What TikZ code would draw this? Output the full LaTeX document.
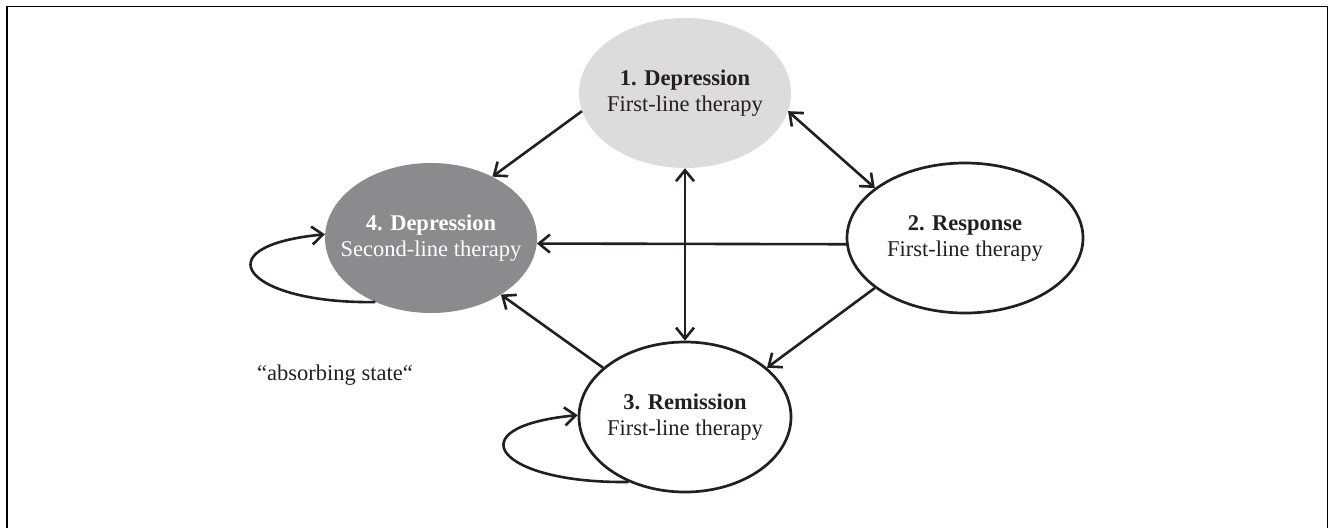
\documentclass[tikz,border=0pt]{standalone}
\usepackage{fontspec}
\setmainfont{Liberation Serif}
\usetikzlibrary{shapes, arrows.meta, positioning}
\definecolor{lightfill}{RGB}{220,220,220}
\definecolor{darkfill}{RGB}{139,139,142}
\definecolor{inkcol}{RGB}{35,31,32}

\begin{document}
\begin{tikzpicture}[
                x=1pt, y=-1pt,
                phase/.style={ellipse, minimum width=212pt, minimum height=150pt, inner xsep=-40pt, inner ysep=0pt, align=center, text=inkcol, font=\fontsize{22.5}{26}\selectfont},
                arr/.style={draw=inkcol, line width=2.6pt, -{Straight Barb[length=11pt,width=18pt]}},
                darr/.style={draw=inkcol, line width=2.6pt, {Straight Barb[length=11pt,width=18pt]}-{Straight Barb[length=11pt,width=18pt]}}
            ]
                \useasboundingbox (0,0) rectangle (1329,528);
                \draw[line width=1.6pt] (7,528) -- (7,6.5) -- (1327.5,6.5) -- (1327.5,528);

                \node[phase, fill=lightfill] (dep1) at (685,93) {\textbf{1. Depression}\\First-line therapy};
                \node[phase, draw=inkcol, line width=2.7pt, minimum width=236pt] (resp) at (965,238) {\textbf{2. Response}\\First-line therapy};
                \node[phase, draw=inkcol, line width=2.7pt] (remis) at (685,417) {\textbf{3. Remission}\\First-line therapy};
                \node[phase, fill=darkfill, text=white] (dep2) at (431,238) {\textbf{4. Depression}\\Second-line therapy};
                \node[font=\fontsize{22.5}{26}\selectfont, text=inkcol] (absorb) at (335,375) {“absorbing state“};

                \draw[arr] (dep1.190) -- (dep2.45);
                \draw[darr] (dep1.350) -- (resp.151);
                \draw[darr] (dep1.south) -- (remis.north);
                \draw[arr] (resp.183) -- (dep2.-3.3);
                \draw[arr] (remis.149) -- (dep2.-39);
                \draw[arr] (resp.209.5) -- (remis.31.4);

                \draw[arr] (dep2.229) .. controls +(-130,2) and +(-125,12) .. (dep2.178);
                \draw[arr] (remis.229) .. controls +(-130,2) and +(-125,12) .. (remis.179);
            \end{tikzpicture}
\end{document}
